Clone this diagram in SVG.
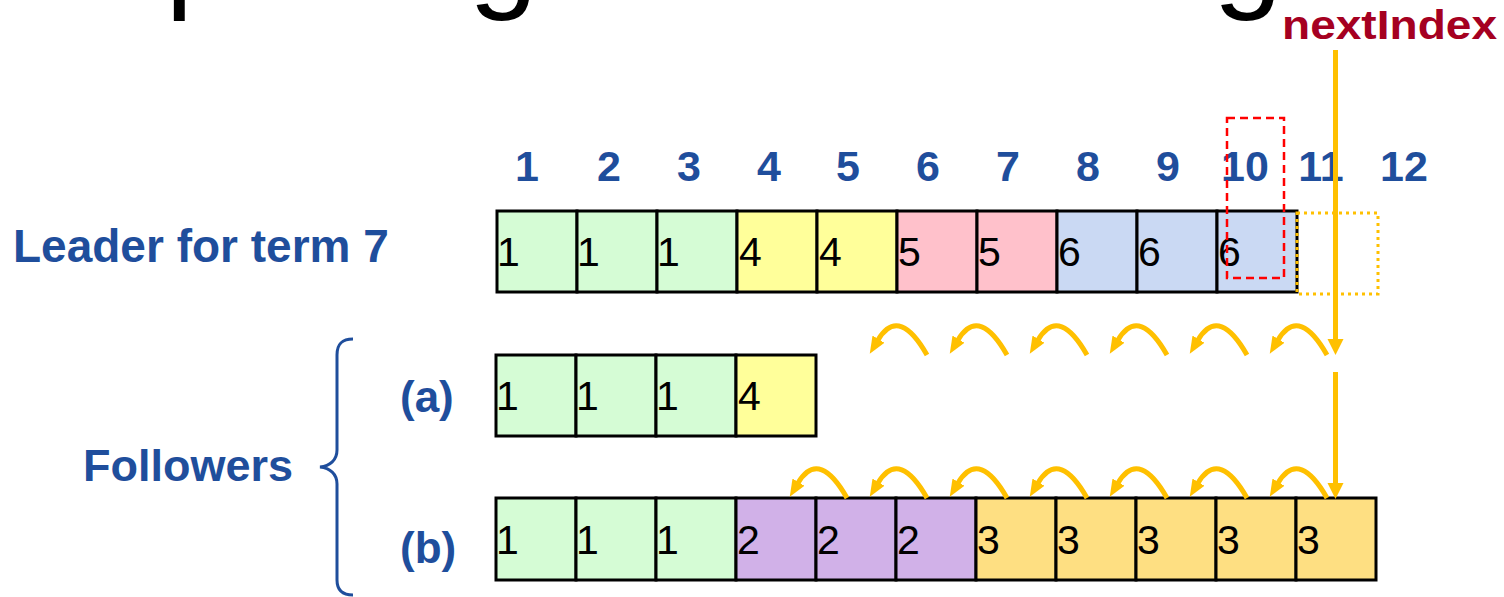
<svg xmlns="http://www.w3.org/2000/svg" width="1504" height="597" viewBox="0 0 1504 597">
  <style>
    .bl { font-family: "Liberation Sans", Arial, sans-serif; font-weight: bold; fill: #1F4E9C; }
    .idx { font-size: 43px; text-anchor: middle; }
    .cell { stroke: #000; stroke-width: 3; }
    .num { font-family: "Liberation Sans", Arial, sans-serif; font-size: 41px; fill: #000; }
    .g { fill: #D5FCD5; }
    .y { fill: #FFFF9A; }
    .p { fill: #FFC1CB; }
    .b { fill: #CAD9F3; }
    .v { fill: #D1B1E8; }
    .o { fill: #FEDF82; }
    .arc { fill: none; stroke: #FFC000; stroke-width: 5; }
  </style>
  <defs>
    <marker id="ah" markerUnits="userSpaceOnUse" markerWidth="18" markerHeight="15" viewBox="0 -7.5 18 15" refX="1" refY="0" orient="auto">
      <path d="M0,-7 L17,0 L0,7 z" fill="#FFC000"/>
    </marker>
    <marker id="av" markerUnits="userSpaceOnUse" markerWidth="16" markerHeight="17" viewBox="0 -8.5 16 17" refX="1" refY="0" orient="auto">
      <path d="M0,-8 L16,0 L0,8 z" fill="#FFC000"/>
    </marker>
  </defs>

  <g id="title">
    <text x="7" y="-5" font-family="'Liberation Sans', Arial, sans-serif" font-size="124" fill="#000">Repairing Follower Logs</text>
  </g>

  <g id="nextIndex-label">
    <text x="1282" y="39" font-family="'Liberation Sans', Arial, sans-serif" font-weight="bold" font-size="40" fill="#A50021" textLength="215" lengthAdjust="spacingAndGlyphs">nextIndex</text>
  </g>

  <g id="indices" class="bl idx">
    <text x="527" y="181">1</text>
    <text x="609" y="181">2</text>
    <text x="689" y="181">3</text>
    <text x="769" y="181">4</text>
    <text x="848" y="181">5</text>
    <text x="928" y="181">6</text>
    <text x="1008" y="181">7</text>
    <text x="1088" y="181">8</text>
    <text x="1168" y="181">9</text>
    <text x="1245" y="181">10</text>
    <text x="1321" y="181">11</text>
    <text x="1404" y="181">12</text>
  </g>

  <g id="labels" class="bl">
    <text x="13" y="262" font-size="46">Leader for term 7</text>
    <text x="83" y="481" font-size="45">Followers</text>
    <text x="400" y="412" font-size="44">(a)</text>
    <text x="400" y="563" font-size="44">(b)</text>
    <path d="M353,339 C343,339 337,343 337,355 L337,450 C337,460 330,466 320,467 C330,468 337,474 337,484 L337,580 C337,591 343,595 353,595" fill="none" stroke="#1F4E9C" stroke-width="3"/>
  </g>

  <g id="leader">
    <rect class="cell g" x="497" y="211" width="80" height="81"/>
    <rect class="cell g" x="577" y="211" width="80" height="81"/>
    <rect class="cell g" x="657" y="211" width="80" height="81"/>
    <rect class="cell y" x="737" y="211" width="80" height="81"/>
    <rect class="cell y" x="817" y="211" width="80" height="81"/>
    <rect class="cell p" x="897" y="211" width="80" height="81"/>
    <rect class="cell p" x="977" y="211" width="80" height="81"/>
    <rect class="cell b" x="1057" y="211" width="80" height="81"/>
    <rect class="cell b" x="1137" y="211" width="80" height="81"/>
    <rect class="cell b" x="1217" y="211" width="80" height="81"/>
    <g class="num">
      <text x="497" y="266">1</text>
      <text x="577" y="266">1</text>
      <text x="657" y="266">1</text>
      <text x="739" y="266">4</text>
      <text x="819" y="266">4</text>
      <text x="898" y="266">5</text>
      <text x="978" y="266">5</text>
      <text x="1058" y="266">6</text>
      <text x="1138" y="266">6</text>
      <text x="1218" y="266">6</text>
    </g>
    <rect x="1297" y="213" width="81" height="81" fill="none" stroke="#FFC000" stroke-width="3" stroke-dasharray="3 4"/>
    <rect x="1227" y="118" width="57" height="160" fill="none" stroke="#FF0000" stroke-width="2.5" stroke-dasharray="8 5"/>
  </g>

  <g id="follower-a">
    <rect class="cell g" x="496" y="355" width="80" height="81"/>
    <rect class="cell g" x="576" y="355" width="80" height="81"/>
    <rect class="cell g" x="656" y="355" width="80" height="81"/>
    <rect class="cell y" x="736" y="355" width="80" height="81"/>
    <g class="num">
      <text x="496" y="410">1</text>
      <text x="576" y="410">1</text>
      <text x="656" y="410">1</text>
      <text x="738" y="410">4</text>
    </g>
  </g>

  <g id="follower-b">
    <rect class="cell g" x="496" y="498" width="80" height="82"/>
    <rect class="cell g" x="576" y="498" width="80" height="82"/>
    <rect class="cell g" x="656" y="498" width="80" height="82"/>
    <rect class="cell v" x="736" y="498" width="80" height="82"/>
    <rect class="cell v" x="816" y="498" width="80" height="82"/>
    <rect class="cell v" x="896" y="498" width="80" height="82"/>
    <rect class="cell o" x="976" y="498" width="80" height="82"/>
    <rect class="cell o" x="1056" y="498" width="80" height="82"/>
    <rect class="cell o" x="1136" y="498" width="80" height="82"/>
    <rect class="cell o" x="1216" y="498" width="80" height="82"/>
    <rect class="cell o" x="1296" y="498" width="80" height="82"/>
    <g class="num">
      <text x="496" y="554">1</text>
      <text x="576" y="554">1</text>
      <text x="656" y="554">1</text>
      <text x="737" y="554">2</text>
      <text x="817" y="554">2</text>
      <text x="897" y="554">2</text>
      <text x="977" y="554">3</text>
      <text x="1057" y="554">3</text>
      <text x="1137" y="554">3</text>
      <text x="1217" y="554">3</text>
      <text x="1297" y="554">3</text>
    </g>
  </g>

  <g id="connectors">
    <path class="arc" marker-end="url(#av)" d="M1335.5,50 L1335.5,340"/>
    <path class="arc" marker-end="url(#av)" d="M1335.5,372 L1335.5,484"/>
    <g class="arc" marker-end="url(#ah)">
      <path d="M927,355 C910,325 893,315 878,340"/>
      <path d="M1007,355 C990,325 973,315 958,340"/>
      <path d="M1087,355 C1070,325 1053,315 1038,340"/>
      <path d="M1167,355 C1150,325 1133,315 1118,340"/>
      <path d="M1247,355 C1230,325 1213,315 1198,340"/>
      <path d="M1327,355 C1310,325 1293,315 1278,340"/>
      <path d="M847,498 C830,468 813,458 798,483"/>
      <path d="M927,498 C910,468 893,458 878,483"/>
      <path d="M1007,498 C990,468 973,458 958,483"/>
      <path d="M1087,498 C1070,468 1053,458 1038,483"/>
      <path d="M1167,498 C1150,468 1133,458 1118,483"/>
      <path d="M1247,498 C1230,468 1213,458 1198,483"/>
      <path d="M1327,498 C1310,468 1293,458 1278,483"/>
    </g>
  </g>
</svg>
